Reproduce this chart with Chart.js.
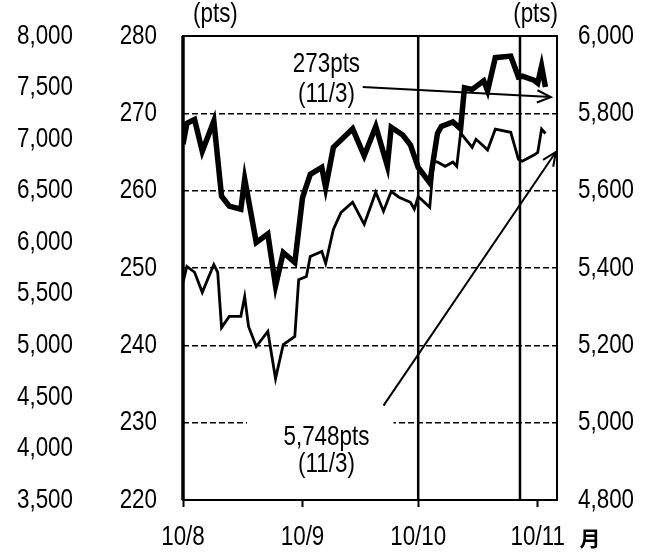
<!DOCTYPE html>
<html>
<head>
<meta charset="utf-8">
<script src="https://cdn.jsdelivr.net/npm/chart.js@4.4.1/dist/chart.umd.min.js"></script>
<style>
  html, body { margin: 0; padding: 0; background: #fff; }
</style>
</head>
<body>
<canvas id="chart" width="657" height="555"></canvas>
<script>
// x = calendar day counted from 1 Aug 2010 (day 0 = "10/8")
const tickDays   = [0, 31, 61, 92];
const tickLabels = ['10/8', '10/9', '10/10', '10/11'];

// thick line, left axis (pts)
const thickDays   = [0, 1, 3, 5, 8, 10, 12, 15, 16, 19, 22, 24, 26, 29, 31, 33, 36, 37, 39, 44,
                     47, 50, 53, 54, 57, 59, 61, 64, 66, 67, 70, 72, 73, 75, 78, 79, 81, 85, 87, 88,
                     91, 92, 93, 94];
const thickValues = [266.0, 268.7, 269.2, 265.1, 269.0, 259.3, 258.0, 257.6, 261.5, 253.3,
                     254.4, 247.7, 252.0, 250.7, 259.1, 262.1, 263.0, 260.4, 265.6, 268.0,
                     264.5, 268.3, 263.2, 268.2, 267.2, 265.9, 263.0, 261.0, 267.4, 268.3,
                     268.9, 268.0, 273.3, 273.1, 274.2, 272.9, 277.2, 277.4, 274.7, 274.8,
                     274.3, 273.9, 276.1, 273.4];

// thin line, right axis (pts)
const thinDays   = [0, 1, 3, 5, 8, 9, 10, 12, 15, 16, 17, 19, 22, 24, 26, 29, 30, 32, 33, 36,
                    37, 39, 41, 44, 47, 50, 52, 54, 56, 59, 60, 61, 64, 65, 66, 68, 70, 71, 72, 75,
                    76, 78, 79, 81, 85, 87, 88, 91, 92, 93, 94];
const thinValues = [5363, 5404, 5389, 5337, 5409, 5389, 5246, 5275, 5275, 5326,
                    5249, 5197, 5236, 5114, 5202, 5223, 5370, 5378, 5430, 5443,
                    5412, 5500, 5544, 5570, 5513, 5596, 5547, 5598, 5583, 5570,
                    5552, 5585, 5557, 5676, 5674, 5663, 5674, 5663, 5749, 5712,
                    5733, 5715, 5705, 5759, 5751, 5681, 5676, 5692, 5699, 5759,
                    5748];

// vertical marker lines (days)
const markerDays = [61, 87.4];

// call-outs, in data units (day, left-axis value)
const noteTop = {
    lines: ['273pts', '(11/3)'], day: 37.2, at: [276.4, 272.4],
    from: [46.6, 273.4], to: [95.4, 272.1]
};
const noteBottom = {
    lines: ['5,748pts', '(11/3)'], day: 37.2, at: [228.1, 224.6],
    box: [16.6, 54.6, 231.2, 221.5],
    from: [52.0, 232.2], to: [96.7, 265.0]
};

const FONT = "'Liberation Sans', Arial, sans-serif";
const SIZE = 28;
const SQUEEZE = 0.8;   // the source uses a narrow, monospaced face

const fmt = v => v.toLocaleString('en-US');

// text drawn horizontally condensed
function narrowText(ctx, text, x, y, align) {
    ctx.save();
    ctx.translate(x, y);
    ctx.scale(SQUEEZE, 1);
    ctx.textAlign = align;
    ctx.textBaseline = 'middle';
    ctx.fillText(text, 0, 0);
    ctx.restore();
}

function arrow(ctx, x1, y1, x2, y2) {
    ctx.beginPath();
    ctx.moveTo(x1, y1);
    ctx.lineTo(x2, y2);
    ctx.stroke();
    const ang = Math.atan2(y2 - y1, x2 - x1), h = 15, spread = 0.42;
    ctx.beginPath();
    ctx.moveTo(x2 - h * Math.cos(ang - spread), y2 - h * Math.sin(ang - spread));
    ctx.lineTo(x2, y2);
    ctx.lineTo(x2 - h * Math.cos(ang + spread), y2 - h * Math.sin(ang + spread));
    ctx.stroke();
}

const overlay = {
    id: 'overlay',
    afterDatasetsDraw(chart) {
        const { ctx, chartArea: a, scales: { x, y, yFar, y2 } } = chart;
        const px = d => x.getPixelForValue(d);
        const py = v => y.getPixelForValue(v);
        ctx.save();
        ctx.strokeStyle = '#000';
        ctx.fillStyle = '#000';

        // marker lines
        ctx.lineWidth = 2.5;
        markerDays.forEach(d => {
            ctx.beginPath();
            ctx.moveTo(px(d), a.top);
            ctx.lineTo(px(d), a.bottom);
            ctx.stroke();
        });

        // frame
        ctx.lineWidth = 2;
        ctx.strokeRect(a.left, a.top, a.right - a.left, a.bottom - a.top);
        ctx.lineWidth = 3.5;
        ctx.beginPath();
        ctx.moveTo(a.left, a.top);
        ctx.lineTo(a.left, a.bottom);
        ctx.stroke();

        // white box behind the lower call-out
        const b = noteBottom.box;
        ctx.fillStyle = '#fff';
        ctx.fillRect(px(b[0]), py(b[2]), px(b[1]) - px(b[0]), py(b[3]) - py(b[2]));
        ctx.fillStyle = '#000';

        ctx.font = `${SIZE}px ${FONT}`;
        [noteTop, noteBottom].forEach(n => {
            n.lines.forEach((t, i) => narrowText(ctx, t, px(n.day), py(n.at[i]), 'center'));
            ctx.lineWidth = 2;
            arrow(ctx, px(n.from[0]), py(n.from[1]), px(n.to[0]), py(n.to[1]));
        });

        // tick labels
        y.ticks.forEach(t => narrowText(ctx, String(t.value), y.right - 26, py(t.value), 'right'));
        yFar.ticks.forEach(t => narrowText(ctx, fmt(t.value), yFar.right - 17, yFar.getPixelForValue(t.value), 'right'));
        y2.ticks.forEach(t => narrowText(ctx, fmt(t.value), y2.left + 21, y2.getPixelForValue(t.value), 'left'));
        tickDays.forEach((d, i) => narrowText(ctx, tickLabels[i], px(d), a.bottom + 37, 'center'));

        // unit labels
        narrowText(ctx, '(pts)', a.left + 10, a.top - 22, 'left');
        narrowText(ctx, '(pts)', a.right + 1, a.top - 22, 'right');
        ctx.font = `bold 21px 'Noto Sans CJK JP', sans-serif`;
        ctx.textAlign = 'center';
        ctx.textBaseline = 'middle';
        ctx.fillText('月', a.right + 33, a.bottom + 38);
        ctx.restore();
    }
};

new Chart(document.getElementById('chart'), {
    type: 'line',
    data: {
        datasets: [{
            label: 'left',
            data: thickDays.map((d, i) => ({ x: d, y: thickValues[i] })),
            yAxisID: 'y',
            borderColor: '#000',
            borderWidth: 5.5,
            borderJoinStyle: 'miter',
            pointRadius: 0,
            tension: 0
        }, {
            label: 'right',
            data: thinDays.map((d, i) => ({ x: d, y: thinValues[i] })),
            yAxisID: 'y2',
            borderColor: '#000',
            borderWidth: 2.8,
            borderJoinStyle: 'miter',
            pointRadius: 0,
            tension: 0
        }]
    },
    options: {
        responsive: false,
        devicePixelRatio: 1,
        animation: false,
        layout: { padding: { top: 36, left: 0, right: 0, bottom: 0 } },
        plugins: { legend: { display: false }, tooltip: { enabled: false } },
        scales: {
            x: {
                type: 'linear',
                min: 0,
                max: 97,
                afterBuildTicks: s => { s.ticks = tickDays.map(v => ({ value: v })); },
                afterFit: s => { s.height = 55; },
                ticks: { display: false },
                grid: { drawOnChartArea: false, drawTicks: true, tickLength: 7, tickWidth: 2, color: '#000' },
                border: { display: false }
            },
            y: {
                position: 'left',
                min: 220,
                max: 280,
                weight: 0,
                afterFit: s => { s.width = 93; },
                ticks: { display: false, stepSize: 10 },
                grid: {
                    drawTicks: false,
                    lineWidth: 1.5,
                    color: c => (c.tick.value === 220 || c.tick.value === 280) ? 'rgba(0,0,0,0)' : '#000'
                },
                border: { display: false, dash: [6, 3] }
            },
            yFar: {
                position: 'left',
                min: 3500,
                max: 8000,
                weight: 1,
                afterFit: s => { s.width = 90; },
                ticks: { display: false, stepSize: 500 },
                grid: { display: false },
                border: { display: false }
            },
            y2: {
                position: 'right',
                min: 4800,
                max: 6000,
                afterFit: s => { s.width = 100; },
                ticks: { display: false, stepSize: 200 },
                grid: { display: false },
                border: { display: false }
            }
        }
    },
    plugins: [overlay]
});
</script>
</body>
</html>
